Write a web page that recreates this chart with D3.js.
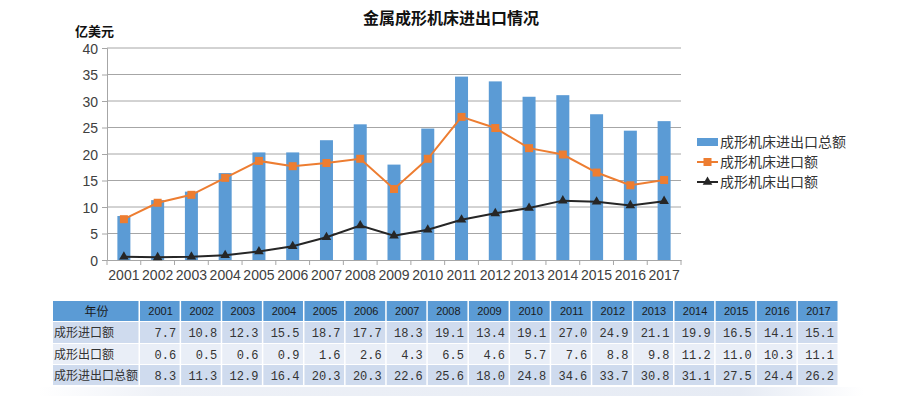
<!DOCTYPE html>
<html lang="zh">
<head>
  <meta charset="UTF-8">
  <title>金属成形机床进出口情况</title>
  <script src="https://d3js.org/d3.v7.min.js"></script>
  <style>
    body { margin: 0; background: #fff; }
    svg { display: block; }
    .tick text { font-family: "Liberation Sans", Arial, sans-serif; font-size: 14px; fill: #404040; }
  </style>
</head>
<body>
<svg width="900" height="396"></svg>
<script>
  const years = ["2001","2002","2003","2004","2005","2006","2007","2008","2009","2010","2011","2012","2013","2014","2015","2016","2017"];
  const importVals = [7.7,10.8,12.3,15.5,18.7,17.7,18.3,19.1,13.4,19.1,27.0,24.9,21.1,19.9,16.5,14.1,15.1];
  const exportVals = [0.6,0.5,0.6,0.9,1.6,2.6,4.3,6.5,4.6,5.7,7.6,8.8,9.8,11.2,11.0,10.3,11.1];
  const totalVals = [8.3,11.3,12.9,16.4,20.3,20.3,22.6,25.6,18.0,24.8,34.6,33.7,30.8,31.1,27.5,24.4,26.2];
  const yTicks = [0,5,10,15,20,25,30,35,40];
  const seriesNames = ["成形机床进出口总额", "成形机床进口额", "成形机床出口额"];
  const rowNames = ["成形进口额", "成形出口额", "成形进出口总额"];

  const svg = d3.select("svg");
  const blue = "#5b9bd5", orange = "#ed7d31", dark = "#262626";

  const x = d3.scaleBand().domain(years).range([107, 681]);
  const y = d3.scaleLinear().domain([0, 40]).range([260, 48]);

  // title
  svg.append("text").attr("x", 451).attr("y", 24).attr("text-anchor", "middle")
    .style("font-family", "'Noto Sans CJK SC', sans-serif").style("font-size", "16px")
    .style("font-weight", "bold").attr("fill", "#111").text("金属成形机床进出口情况");

  svg.append("text").attr("x", 75).attr("y", 36)
    .style("font-family", "'Noto Sans CJK SC', sans-serif").style("font-size", "13px")
    .style("font-weight", "bold").attr("fill", "#111").text("亿美元");

  // grid
  svg.append("g").selectAll("line").data(yTicks.slice(1)).join("line")
    .attr("x1", 107).attr("x2", 681).attr("y1", d => y(d)).attr("y2", d => y(d))
    .attr("stroke", "#a6a6a6").attr("stroke-width", 1);

  // y axis
  const yAxis = svg.append("g").attr("transform", "translate(107,0)")
    .call(d3.axisLeft(y).tickValues(yTicks).tickSize(5).tickPadding(4));
  yAxis.selectAll("line, path").attr("stroke", "#a6a6a6");
  yAxis.selectAll(".tick text").attr("dy", "0.36em");

  // bars
  const bw = 13;
  svg.append("g").selectAll("rect").data(totalVals).join("rect")
    .attr("x", (d, i) => x(years[i]) + x.bandwidth() / 2 - bw / 2)
    .attr("width", bw)
    .attr("y", d => y(d)).attr("height", d => y(0) - y(d))
    .attr("fill", blue);

  // x axis
  const xAxis = svg.append("g").attr("transform", "translate(0,260)")
    .call(d3.axisBottom(x).tickSize(0).tickPadding(10));
  xAxis.select("path").attr("stroke", "#a6a6a6");
  xAxis.selectAll(".tick text").attr("dy", "0.71em");
  svg.append("g").selectAll("line").data(d3.range(years.length + 1)).join("line")
    .attr("x1", i => 107 + i * x.step()).attr("x2", i => 107 + i * x.step())
    .attr("y1", 260).attr("y2", 265).attr("stroke", "#a6a6a6");

  const cx = i => x(years[i]) + x.bandwidth() / 2;
  const line = d3.line().x((d, i) => cx(i)).y(d => y(d));

  // import line
  svg.append("path").datum(importVals).attr("d", line)
    .attr("fill", "none").attr("stroke", orange).attr("stroke-width", 2);
  svg.append("g").selectAll("rect").data(importVals).join("rect")
    .attr("x", (d, i) => cx(i) - 4).attr("y", d => y(d) - 4)
    .attr("width", 8).attr("height", 8).attr("fill", orange);

  // export line
  const tri = d3.symbol().type(d3.symbolTriangle).size(40);
  svg.append("path").datum(exportVals).attr("d", line)
    .attr("fill", "none").attr("stroke", dark).attr("stroke-width", 2);
  svg.append("g").selectAll("path").data(exportVals).join("path")
    .attr("d", tri).attr("transform", (d, i) => `translate(${cx(i)},${y(d)})`)
    .attr("fill", dark);

  // legend
  const lg = svg.append("g").style("font-family", "'Noto Sans CJK SC', sans-serif")
    .style("font-size", "14px");
  seriesNames.forEach((name, i) => {
    const ly = 142 + i * 20;
    if (i === 0) {
      lg.append("rect").attr("x", 697).attr("y", ly - 4).attr("width", 21).attr("height", 8).attr("fill", blue);
    } else {
      const c = i === 1 ? orange : dark;
      lg.append("line").attr("x1", 697).attr("x2", 718).attr("y1", ly).attr("y2", ly)
        .attr("stroke", c).attr("stroke-width", 2);
      if (i === 1) {
        lg.append("rect").attr("x", 703.5).attr("y", ly - 4).attr("width", 8).attr("height", 8).attr("fill", c);
      } else {
        lg.append("path").attr("d", tri).attr("transform", `translate(707.5,${ly})`).attr("fill", c);
      }
    }
    lg.append("text").attr("x", 720).attr("y", ly).attr("dy", "0.35em")
      .attr("fill", "#333").text(name);
  });

  // table
  const tx0 = 53, firstW = 87, colW = (839 - 140) / years.length;
  const rowY = [301, 322, 344, 365];
  const rowH = [20, 21, 20, 20];
  const rowFill = ["#5b9bd5", "#cfdbee", "#e9eef7", "#cfdbee"];
  const rows = [importVals, exportVals, totalVals];
  const tbl = svg.append("g");

  // bottom shadow band
  const grad = svg.append("defs").append("linearGradient").attr("id", "shade")
    .attr("x1", 0).attr("x2", 1);
  grad.append("stop").attr("offset", "0%").attr("stop-color", "#ffffff");
  grad.append("stop").attr("offset", "15%").attr("stop-color", "#eef1f7");
  grad.append("stop").attr("offset", "85%").attr("stop-color", "#e6ebf4");
  grad.append("stop").attr("offset", "100%").attr("stop-color", "#ffffff");
  tbl.append("rect").attr("x", 38).attr("y", 387).attr("width", 826).attr("height", 9).attr("fill", "url(#shade)");

  for (let r = 0; r < 4; r++) {
    const cells = [r === 0 ? "年份" : rowNames[r - 1]].concat(r === 0 ? years : rows[r - 1].map(v => v.toFixed(1)));
    cells.forEach((c, j) => {
      const cxl = j === 0 ? tx0 : 140 + (j - 1) * colW;
      const w = j === 0 ? firstW : colW;
      tbl.append("rect").attr("x", cxl).attr("y", rowY[r]).attr("width", w - 1.5).attr("height", rowH[r])
        .attr("fill", rowFill[r]);
      const t = tbl.append("text").attr("y", rowY[r] + rowH[r] / 2).attr("dy", "0.38em")
        .attr("fill", "#222");
      if (r === 0) {
        t.attr("x", cxl + w / 2).attr("text-anchor", "middle")
          .style("font-family", j === 0 ? "'Noto Sans CJK SC', sans-serif" : "'Liberation Sans', Arial, sans-serif")
          .style("font-size", j === 0 ? "12px" : "11px").attr("fill", "#1a1a1a");
      } else if (j === 0) {
        t.attr("x", cxl + 1).style("font-family", "'Noto Sans CJK SC', sans-serif").style("font-size", "12px")
          .attr("fill", "#333");
      } else {
        t.attr("x", cxl + w - 5).attr("text-anchor", "end")
          .style("font-family", "'Liberation Mono', 'DejaVu Sans Mono', monospace").style("font-size", "12px")
          .attr("fill", "#333");
      }
      t.text(c);
    });
  }
</script>
</body>
</html>
